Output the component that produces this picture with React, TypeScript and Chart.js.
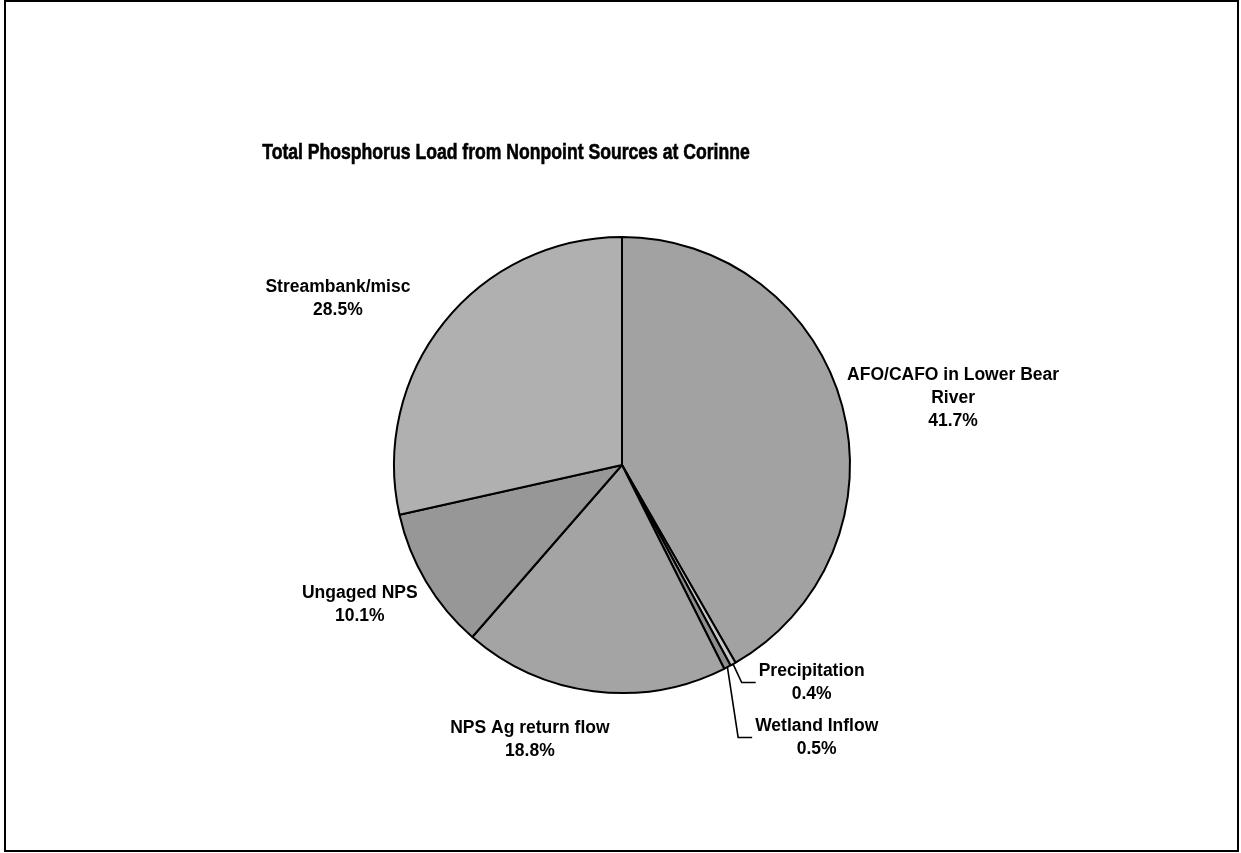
import React, { useEffect, useRef } from "react";
import { Chart, registerables } from "chart.js";

Chart.register(...registerables);

const TITLE = "Total Phosphorus Load from Nonpoint Sources at Corinne";
const categories = [
  "AFO/CAFO in Lower Bear River",
  "Precipitation",
  "Wetland Inflow",
  "NPS Ag return flow",
  "Ungaged NPS",
  "Streambank/misc",
];
const values = [41.7, 0.4, 0.5, 18.8, 10.1, 28.5];
const sliceColors = ["#a2a2a2", "#c6c6c6", "#8e8e8e", "#a4a4a4", "#979797", "#b0b0b0"];

// label block centres, in units of the pie radius relative to the pie centre
const labelOffsets = [
  [1.452, -0.294],
  [0.832, 0.954],
  [0.854, 1.195],
  [-0.404, 1.206],
  [-1.15, 0.614],
  [-1.246, -0.728],
];
const leaderFlags = [false, true, true, false, false, false];

const FONT = "Liberation Sans, Arial, Helvetica, sans-serif";

function wrap(ctx: CanvasRenderingContext2D, text: string, maxW: number): string[] {
  const words = text.split(" ");
  const lines: string[] = [];
  let cur = "";
  for (const w of words) {
    const t = cur ? cur + " " + w : w;
    if (ctx.measureText(t).width > maxW && cur) {
      lines.push(cur);
      cur = w;
    } else cur = t;
  }
  if (cur) lines.push(cur);
  return lines;
}

const decorPlugin = {
  id: "decor",
  afterDraw(chart: any) {
    const ctx = chart.ctx as CanvasRenderingContext2D;
    ctx.save();
    // frame
    ctx.strokeStyle = "#000";
    ctx.lineWidth = 2;
    ctx.strokeRect(5, 1, 1233, 850);
    // title
    ctx.save();
    ctx.fillStyle = "#000";
    ctx.strokeStyle = "#000";
    ctx.lineWidth = 0.6;
    ctx.font = `bold 22px ${FONT}`;
    ctx.textAlign = "center";
    ctx.textBaseline = "middle";
    ctx.translate(506, 153);
    ctx.scale(0.8, 1);
    ctx.fillText(TITLE, 0, 0);
    ctx.strokeText(TITLE, 0, 0);
    ctx.restore();

    const meta = chart.getDatasetMeta(0);
    ctx.font = `bold 17.5px ${FONT}`;
    const lineH = 23;
    meta.data.forEach((arc: any, i: number) => {
      const { x, y, outerRadius, startAngle, endAngle } = arc.getProps(
        ["x", "y", "outerRadius", "startAngle", "endAngle"],
        true
      );
      const r = outerRadius;
      const pct = values[i].toFixed(1) + "%";
      const lines = [...wrap(ctx, categories[i], 215), pct];
      const cx = x + labelOffsets[i][0] * r;
      const cy = y + labelOffsets[i][1] * r;
      const maxW = Math.max(...lines.map((l) => ctx.measureText(l).width));
      const top = cy - ((lines.length - 1) * lineH) / 2;
      ctx.fillStyle = "#000";
      ctx.textAlign = "center";
      ctx.textBaseline = "middle";
      lines.forEach((l, k) => ctx.fillText(l, cx, top + k * lineH));
      if (leaderFlags[i]) {
        const mid = (startAngle + endAngle) / 2;
        const ex = x + Math.cos(mid) * r;
        const ey = y + Math.sin(mid) * r;
        const left = cx - maxW / 2;
        ctx.strokeStyle = "#000";
        ctx.lineWidth = 1.6;
        ctx.beginPath();
        ctx.moveTo(ex, ey);
        ctx.lineTo(left - 17, cy);
        ctx.lineTo(left - 3, cy);
        ctx.stroke();
      }
    });
    ctx.restore();
  },
};

export default function App() {
  const ref = useRef<HTMLCanvasElement>(null);
  useEffect(() => {
    if (!ref.current) return;
    const chart = new Chart(ref.current, {
      type: "pie",
      data: {
        labels: categories,
        datasets: [
          {
            data: values,
            backgroundColor: sliceColors,
            borderColor: "#000",
            borderWidth: 2,
          },
        ],
      },
      options: {
        responsive: false,
        animation: false,
        layout: { padding: { left: 393, right: 390, top: 236, bottom: 159 } },
        plugins: {
          legend: { display: false },
          title: { display: false },
          tooltip: { enabled: false },
        },
      },
      plugins: [decorPlugin],
    });
    return () => chart.destroy();
  }, []);
  return (
    <div style={{ position: "absolute", left: 0, top: 0, width: 1241, height: 853, background: "#fff" }}>
      <canvas ref={ref} width={1241} height={853} style={{ width: 1241, height: 853, display: "block" }} />
    </div>
  );
}
